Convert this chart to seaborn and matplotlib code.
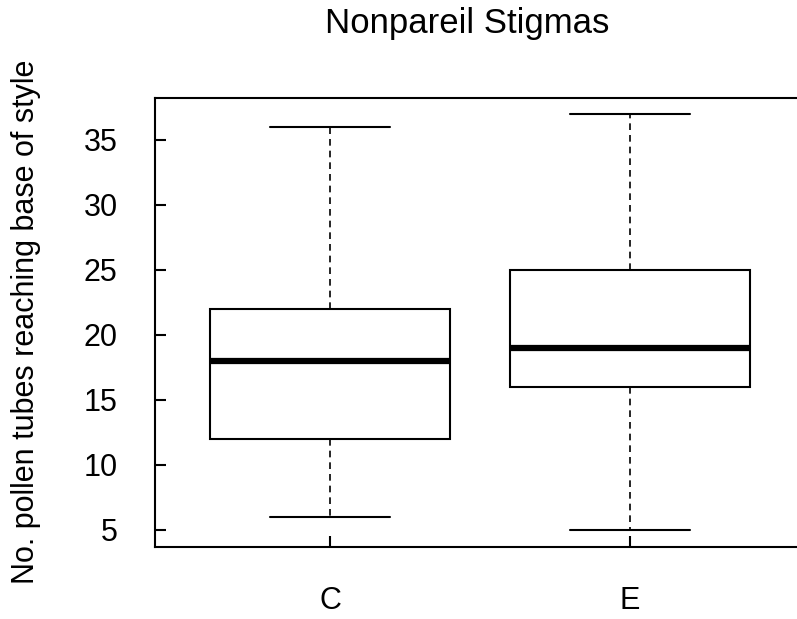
import pandas as pd
import seaborn as sns
import matplotlib.pyplot as plt

# five-number summaries (min, Q1, median, Q3, max)
groups = ['C', 'E']
c_values = [6, 12, 18, 22, 36]
e_values = [5, 16, 19, 25, 37]

df = pd.DataFrame({
    'group': ['C'] * len(c_values) + ['E'] * len(e_values),
    'tubes': c_values + e_values,
})

sns.set_style('white')
plt.rcParams['font.family'] = ['Liberation Sans', 'DejaVu Sans']
plt.rcParams['text.color'] = 'black'
plt.rcParams['xtick.color'] = 'black'
plt.rcParams['ytick.color'] = 'black'
plt.rcParams['xtick.direction'] = 'in'
plt.rcParams['ytick.direction'] = 'in'

fig = plt.figure(figsize=(7.97, 6.19), dpi=100)
ax = fig.add_axes([0.1945, 0.1163, 0.8143, 0.7254])

sns.boxplot(data=df, x='group', y='tubes', order=groups, ax=ax,
            width=0.8, whis=1.5, fliersize=0, color='white', linecolor='black',
            linewidth=1.5,
            boxprops=dict(facecolor='white', edgecolor='black', linewidth=1.5),
            medianprops=dict(color='black', linewidth=4.5),
            whiskerprops=dict(color='black', linestyle=(0, (4, 3)), linewidth=1.2),
            capprops=dict(color='black', linewidth=1.5),
            capwidths=0.4)

ax.set_xlim(-0.583, 1.58)
ax.set_ylim(3.69, 38.23)
ax.set_yticks([5, 10, 15, 20, 25, 30, 35])

for side in ['left', 'bottom', 'top', 'right']:
    ax.spines[side].set_visible(True)
    ax.spines[side].set_color('black')
    ax.spines[side].set_linewidth(1.5)

ax.tick_params(axis='both', length=8, width=1.5, color='black',
               labelcolor='black', labelsize=22, left=True, bottom=True)
ax.tick_params(axis='y', pad=27)
ax.tick_params(axis='x', pad=28)
# R style: ticks point into the plot
ax.xaxis.set_tick_params(which='both', direction='in')
ax.yaxis.set_tick_params(which='both', direction='in')

ax.set_xlabel('')
ax.set_ylabel('')
fig.text(26 / 797, 1 - 322 / 619, 'No. pollen tubes reaching base of style',
         rotation=90, ha='center', va='center', fontsize=22, color='black')
fig.text(467 / 797, 1 - 33 / 619, 'Nonpareil Stigmas',
         ha='center', va='baseline', fontsize=25, color='black')

plt.savefig('out.png', dpi=100)
